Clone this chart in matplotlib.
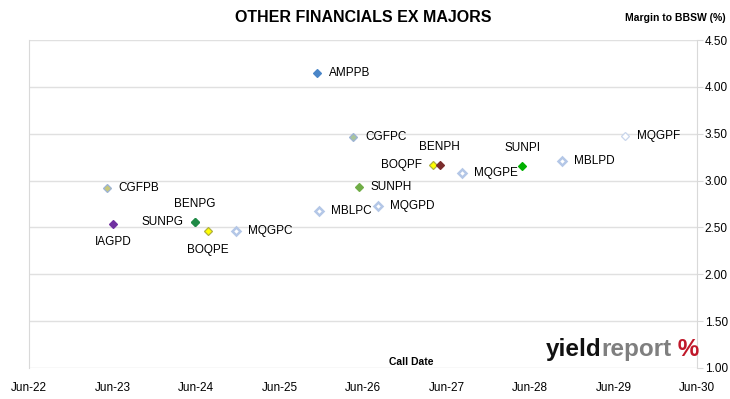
import numpy as np
import matplotlib.pyplot as plt
import matplotlib.dates as mdates
import pandas as pd

# securities, call dates and margins
names = ['AMPPB', 'CGFPC', 'CGFPB', 'IAGPD', 'BENPG', 'SUNPG', 'BOQPE', 'MQGPC',
         'MBLPC', 'SUNPH', 'MQGPD', 'BOQPF', 'BENPH', 'MQGPE', 'SUNPI', 'MBLPD', 'MQGPF']
call_dates = ['2025-11-12', '2026-04-19', '2023-05-07', '2023-06-03', '2024-05-27',
              '2024-05-26', '2024-07-22', '2024-11-23', '2025-11-22', '2026-05-13',
              '2026-08-07', '2027-04-02', '2027-05-03', '2027-08-07', '2028-04-27',
              '2028-10-19', '2029-07-21']
margins = [4.15, 3.46, 2.92, 2.54, 2.56, 2.56, 2.46, 2.46,
           2.68, 2.93, 2.73, 3.17, 3.17, 3.08, 3.16, 3.21, 3.48]

face = ['#4a86c8', '#a9c49c', '#c8c87a', '#7030a0', '#1f8a46', '#1f8a46', '#ffff00', 'white',
        'white', '#70ad47', 'white', '#ffff00', '#7b2c2c', 'white', '#00b000', 'white', 'white']
edge = ['#4a86c8', '#9db3d6', '#9db3d6', '#7030a0', '#1f8a46', '#1f8a46', '#b0b040', '#b4c7e7',
        '#b4c7e7', '#70ad47', '#b4c7e7', '#b0b040', '#7b2c2c', '#b4c7e7', '#00b000', '#b4c7e7', '#c9d6ec']
ew = [1, 1, 1, 1, 1, 1, 1, 2, 2, 1, 2, 1, 1, 2, 1, 2, 1]
# label placement: r=right, l=left, a=above, b=below
where = ['r', 'r', 'r', 'b', 'a', 'l', 'b', 'r', 'r', 'r', 'r', 'l', 'a', 'r', 'a', 'r', 'r']

y_ticks = [1.0, 1.5, 2.0, 2.5, 3.0, 3.5, 4.0, 4.5]

plt.rcParams['font.family'] = ['Liberation Sans', 'DejaVu Sans']

fig = plt.figure(figsize=(7.3, 3.99), dpi=100)
ax = fig.add_axes([0.0397, 0.0777, 0.9151, 0.822])

offsets = {'r': (8.5, 0, 'left'), 'l': (-8, 0, 'right'),
           'a': (0, 12.5, 'center'), 'b': (0, -13.5, 'center')}
dates = pd.to_datetime(call_dates)
for i in range(len(names)):
    ax.plot(dates[i], margins[i], marker='D', ms=4 if ew[i] == 1 else 3.6, mfc=face[i],
            mec=edge[i], mew=ew[i] * 0.9, ls='none', zorder=3)
    dx, dy, ha = offsets[where[i]]
    ax.annotate(names[i], (dates[i], margins[i]), xytext=(dx, dy), textcoords='offset points',
                ha=ha, va='center', fontsize=8.5, color='black')

ax.set_xlim(pd.Timestamp('2022-06-01'), pd.Timestamp('2030-06-01'))
ax.set_ylim(1.0, 4.5)
ax.xaxis.set_major_locator(mdates.MonthLocator(bymonth=6, bymonthday=1))
ax.xaxis.set_major_formatter(mdates.DateFormatter('%b-%y'))
ax.set_yticks(y_ticks)
ax.set_yticklabels(['%.2f' % v for v in y_ticks])
ax.yaxis.tick_right()
ax.tick_params(axis='y', length=4, color='#d9d9d9', labelsize=8.5, pad=1.5)
ax.tick_params(axis='x', length=0, labelsize=8.5, pad=10)
ax.grid(axis='y', color='#e0e0e0', lw=1)
ax.set_axisbelow(True)
for s in ['top', 'bottom']:
    ax.spines[s].set_visible(False)
for s in ['left', 'right']:
    ax.spines[s].set_color('#d9d9d9')

fig.text(0.497, 0.955, 'OTHER FINANCIALS EX MAJORS', ha='center', va='center',
         fontsize=11.5, fontweight='bold')
fig.text(0.925, 0.955, 'Margin to BBSW (%)', ha='center', va='center', fontsize=7.5,
         fontweight='bold')
ax.text(0.572, 0.018, 'Call Date', transform=ax.transAxes, ha='center', va='center',
        fontsize=7.5, fontweight='bold')

# logo
t1 = ax.text(0.773, 0.02, 'yield', transform=ax.transAxes, fontsize=17.5, fontweight='bold',
             color='#111111', va='bottom')
t2 = ax.annotate('report', xy=(1, 0), xycoords=t1, fontsize=17.5, fontweight='bold',
                 color='#7f7f7f', va='bottom')
ax.annotate(' %', xy=(1, 0), xycoords=t2, fontsize=17.5, fontweight='bold',
            color='#c0182a', va='bottom')

fig.savefig('out.png', dpi=100)
